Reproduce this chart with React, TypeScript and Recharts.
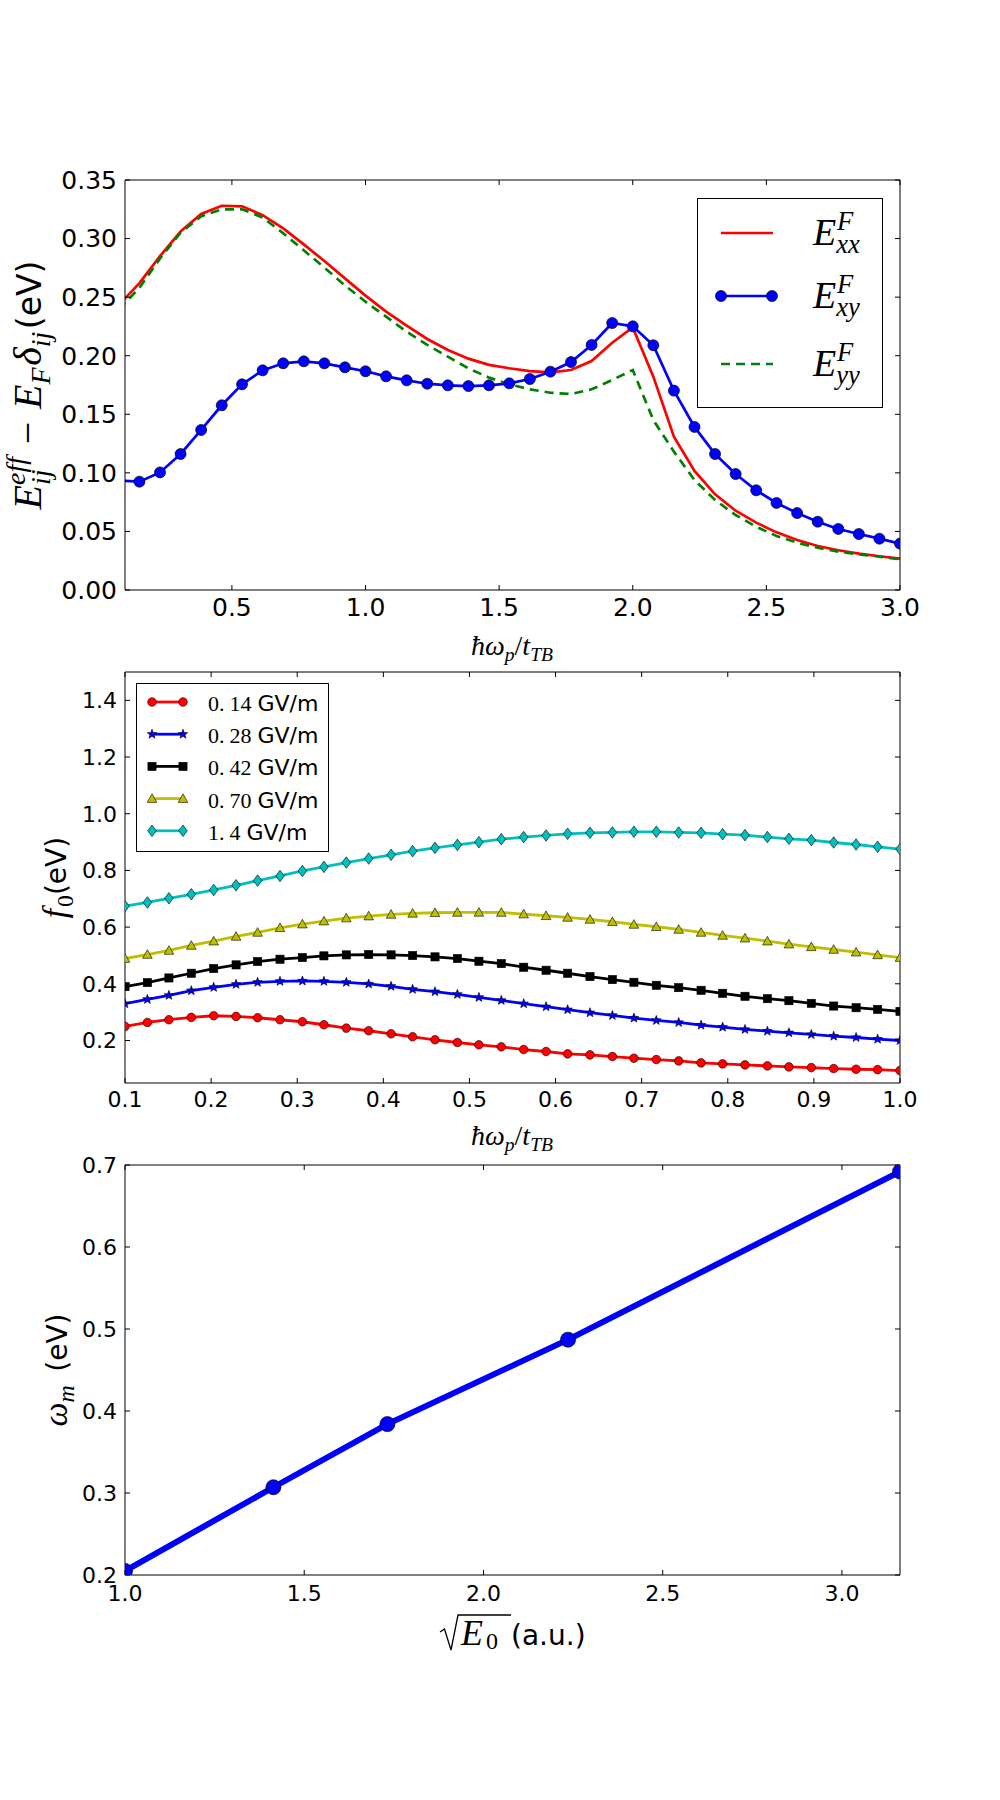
import React from "react";
import { LineChart, Line, XAxis, YAxis, Legend } from "recharts";

const SANS = "DejaVu Sans";
const SERIF = "Liberation Serif";

// ---- panel 1: effective energies vs hbar w_p / t_TB
const X1 = [
  0.077, 0.154, 0.231, 0.308, 0.385, 0.462, 0.538, 0.615, 0.692, 0.769,
  0.846, 0.923, 1.0, 1.077, 1.154, 1.231, 1.308, 1.385, 1.462, 1.538,
  1.615, 1.692, 1.769, 1.846, 1.923, 2.0, 2.077, 2.154, 2.231, 2.308,
  2.385, 2.462, 2.538, 2.615, 2.692, 2.769, 2.846, 2.923, 3.0,
];
const EXX = [
  0.2434, 0.262, 0.285, 0.306, 0.321, 0.328, 0.3275, 0.32, 0.3087, 0.295,
  0.2808, 0.266, 0.2513, 0.2376, 0.2257, 0.2143, 0.2049, 0.1975, 0.1922, 0.1893,
  0.1868, 0.1858, 0.1878, 0.1955, 0.2111, 0.2242, 0.1821, 0.1309, 0.1016, 0.0817,
  0.0677, 0.0575, 0.0492, 0.0427, 0.0376, 0.0339, 0.031, 0.0288, 0.0267,
];
const EXY = [
  0.0935, 0.0925, 0.1004, 0.1161, 0.1366, 0.1577, 0.1756, 0.1875, 0.1935, 0.1952,
  0.1935, 0.1901, 0.1867, 0.1824, 0.179, 0.1761, 0.1747, 0.1741, 0.1747, 0.1764,
  0.1801, 0.1864, 0.1946, 0.2092, 0.2279, 0.2251, 0.2089, 0.1702, 0.1392, 0.1161,
  0.099, 0.0851, 0.0743, 0.0657, 0.0583, 0.0521, 0.0478, 0.0438, 0.0396,
];
const EYY = [
  0.2395, 0.258, 0.283, 0.305, 0.319, 0.325, 0.325, 0.318, 0.3045, 0.29,
  0.2752, 0.26, 0.2461, 0.2333, 0.2205, 0.2092, 0.1992, 0.1892, 0.1813, 0.1756,
  0.1713, 0.1684, 0.1673, 0.1713, 0.1793, 0.1878, 0.1451, 0.1181, 0.0939, 0.0768,
  0.064, 0.054, 0.0461, 0.0404, 0.0361, 0.0327, 0.0305, 0.0285, 0.0262,
];
const X1_TICKS = [0.5, 1.0, 1.5, 2.0, 2.5, 3.0];
const Y1_TICKS = [0, 0.05, 0.1, 0.15, 0.2, 0.25, 0.3, 0.35];

// ---- panel 2: f0 for several field strengths
const X2 = [
  0.1, 0.126, 0.151, 0.177, 0.203, 0.229, 0.254, 0.28, 0.306, 0.331,
  0.357, 0.383, 0.409, 0.434, 0.46, 0.486, 0.511, 0.537, 0.563, 0.589,
  0.614, 0.64, 0.666, 0.691, 0.717, 0.743, 0.769, 0.794, 0.82, 0.846,
  0.871, 0.897, 0.923, 0.949, 0.974, 1.0,
];
const F014 = [
  0.2496, 0.2637, 0.2732, 0.2814, 0.2873, 0.2849, 0.2802, 0.2732, 0.2661, 0.2555,
  0.2437, 0.2343, 0.2236, 0.213, 0.2024, 0.1929, 0.1847, 0.1776, 0.1681, 0.1611,
  0.1528, 0.1493, 0.1434, 0.1375, 0.1327, 0.128, 0.121, 0.1174, 0.1139, 0.1103,
  0.1068, 0.1044, 0.1009, 0.0985, 0.0973, 0.0938,
];
const F028 = [
  0.3298, 0.3451, 0.3593, 0.3758, 0.3876, 0.3982, 0.4053, 0.4088, 0.41, 0.4088,
  0.4053, 0.3994, 0.3912, 0.3805, 0.3723, 0.3628, 0.3522, 0.3416, 0.3298, 0.3192,
  0.3086, 0.298, 0.2885, 0.2791, 0.2708, 0.2637, 0.2543, 0.2472, 0.239, 0.233,
  0.2272, 0.2212, 0.2153, 0.2106, 0.2047, 0.2,
];
const F042 = [
  0.39, 0.4042, 0.4206, 0.4372, 0.4538, 0.4667, 0.4785, 0.4867, 0.4926, 0.4985,
  0.502, 0.5032, 0.502, 0.4997, 0.495, 0.4891, 0.4796, 0.4714, 0.4584, 0.4478,
  0.4372, 0.4254, 0.4148, 0.4053, 0.3947, 0.3865, 0.377, 0.3664, 0.3558, 0.3475,
  0.3404, 0.331, 0.3215, 0.3156, 0.3097, 0.3027,
];
const F070 = [
  0.4891, 0.5033, 0.5175, 0.5352, 0.5504, 0.567, 0.5812, 0.5977, 0.6106, 0.6212,
  0.6319, 0.6389, 0.6448, 0.6484, 0.6507, 0.6519, 0.6519, 0.6515, 0.646, 0.64,
  0.6342, 0.6271, 0.6189, 0.6094, 0.6012, 0.5918, 0.5812, 0.5706, 0.561, 0.5504,
  0.5398, 0.5304, 0.521, 0.5115, 0.502, 0.4926,
];
const F140 = [
  0.674, 0.687, 0.7016, 0.7158, 0.731, 0.7475, 0.764, 0.7805, 0.798, 0.8124,
  0.8277, 0.8419, 0.855, 0.868, 0.8796, 0.89, 0.8997, 0.9103, 0.9175, 0.9233,
  0.9292, 0.9327, 0.9339, 0.9363, 0.9363, 0.9339, 0.9327, 0.928, 0.9245, 0.9175,
  0.9115, 0.907, 0.8985, 0.8914, 0.8832, 0.875,
];
const X2_TICKS = [0.1, 0.2, 0.3, 0.4, 0.5, 0.6, 0.7, 0.8, 0.9, 1.0];
const Y2_TICKS = [0.2, 0.4, 0.6, 0.8, 1.0, 1.2, 1.4];

// ---- panel 3: w_m vs sqrt(E0)
const SQRT_E0 = [1.0, 1.414, 1.732, 2.236, 3.162];
const OMEGA_M = [0.205, 0.307, 0.384, 0.487, 0.692];
const X3_TICKS = [1.0, 1.5, 2.0, 2.5, 3.0];
const Y3_TICKS = [0.2, 0.3, 0.4, 0.5, 0.6, 0.7];

const rows1 = X1.map((x, i) => ({ x, exx: EXX[i], exy: EXY[i], eyy: EYY[i] }));
const FIELDS = [
  { key: "f014", whole: "0.", frac: "14", values: F014, color: "#ff0000", marker: "circle" },
  { key: "f028", whole: "0.", frac: "28", values: F028, color: "#0000ff", marker: "star" },
  { key: "f042", whole: "0.", frac: "42", values: F042, color: "#000000", marker: "square" },
  { key: "f070", whole: "0.", frac: "70", values: F070, color: "#bfbf00", marker: "triangle" },
  { key: "f140", whole: "1.", frac: "4", values: F140, color: "#00bfbf", marker: "diamond" },
];
const rows2 = X2.map((x, i) => {
  const r: Record<string, number> = { x };
  FIELDS.forEach((f) => (r[f.key] = f.values[i]));
  return r;
});
const rows3 = SQRT_E0.map((x, i) => ({ x, w: OMEGA_M[i] }));

// layout of the three panels (chart top, chart height, plot top/bottom relative to chart)
const L1 = { top: 0, height: 670, plotTop: 180, plotBottom: 590 };
const L2 = { top: 670, height: 490, plotTop: 2, plotBottom: 413 };
const L3 = { top: 1140, height: 660, plotTop: 25, plotBottom: 435 };

type Seg = { t: string; it?: boolean; sans?: boolean; lv?: number; dx?: number };

function MathText({ x, y, size, sansSize, segs, anchor = "middle", rotate = false }: {
  x: number; y: number; size: number; sansSize?: number; segs: Seg[]; anchor?: string; rotate?: boolean;
}) {
  let cur = 0;
  const spans = segs.map((s, i) => {
    const lv = s.lv ?? 0;
    const target = lv > 0 ? -0.39 * size : lv < 0 ? 0.22 * size : 0;
    const dy = target - cur;
    cur = target;
    const fs = s.sans ? sansSize ?? size : lv ? size * 0.7 : size;
    return (
      <tspan key={i} dy={dy} dx={(s.dx ?? 0) * size} fontSize={fs}
        fontFamily={s.sans ? SANS : SERIF} fontStyle={s.it ? "italic" : "normal"}>
        {s.t}
      </tspan>
    );
  });
  return (
    <text x={x} y={y} textAnchor={anchor as any} fill="#000" transform={rotate ? `rotate(-90 ${x} ${y})` : undefined}>
      {spans}
    </text>
  );
}

const HW: Seg[] = [
  { t: "ħ", it: true },
  { t: "ω", it: true },
  { t: "p", it: true, lv: -1 },
  { t: "/" },
  { t: "t", it: true },
  { t: "TB", it: true, lv: -1 },
];

const noLabel = () => <g />;

function starPoints(cx: number, cy: number, ro: number, ri: number) {
  const pts: string[] = [];
  for (let i = 0; i < 10; i++) {
    const r = i % 2 ? ri : ro;
    const a = -Math.PI / 2 + (i * Math.PI) / 5;
    pts.push(`${cx + r * Math.cos(a)},${cy + r * Math.sin(a)}`);
  }
  return pts.join(" ");
}

function Marker({ kind, cx, cy, fill }: { kind: string; cx: number; cy: number; fill: string }) {
  const st = { fill, stroke: "#000", strokeWidth: 0.6 };
  if (kind === "circle") return <circle cx={cx} cy={cy} r={4.3} {...st} />;
  if (kind === "star") return <polygon points={starPoints(cx, cy, 5, 2.1)} {...st} />;
  if (kind === "square") return <rect x={cx - 4.1} y={cy - 4.1} width={8.2} height={8.2} {...st} />;
  if (kind === "triangle")
    return <polygon points={`${cx},${cy - 4.8} ${cx - 4.8},${cy + 3.8} ${cx + 4.8},${cy + 3.8}`} {...st} />;
  return <polygon points={`${cx},${cy - 5.8} ${cx + 4.3},${cy} ${cx},${cy + 5.8} ${cx - 4.3},${cy}`} {...st} />;
}

function axes(o: {
  xd: [number, number];
  xt: number[];
  xf: (v: number) => string;
  yd: [number, number];
  yt: number[];
  yf: (v: number) => string;
  fs: number;
  xMargin: number;
  xH: number;
  xLabel: () => React.ReactNode;
  yLabel: () => React.ReactNode;
}) {
  const tick = { fontSize: o.fs, fill: "#000", fontFamily: SANS };
  return [
    <XAxis key="xb" xAxisId="b" type="number" dataKey="x" domain={o.xd} ticks={o.xt} interval={0}
      tickFormatter={o.xf} allowDataOverflow stroke="#000" tick={tick} tickSize={-5}
      tickMargin={o.xMargin} height={o.xH} label={{ content: o.xLabel }} />,
    <XAxis key="xt" xAxisId="t" orientation="top" type="number" dataKey="x" domain={o.xd} ticks={o.xt}
      interval={0} allowDataOverflow stroke="#000" tick={noLabel} tickSize={-5} height={1} />,
    <YAxis key="yl" yAxisId="l" type="number" domain={o.yd} ticks={o.yt} interval={0}
      tickFormatter={o.yf} allowDataOverflow stroke="#000" tick={tick} tickSize={-5}
      tickMargin={13} width={125} label={{ content: o.yLabel }} />,
    <YAxis key="yr" yAxisId="r" orientation="right" type="number" domain={o.yd} ticks={o.yt}
      interval={0} allowDataOverflow stroke="#000" tick={noLabel} tickSize={-5} width={1} />,
  ];
}

const SERIES1 = [
  { key: "exx", sub: "xx", color: "#ff0000", dash: undefined as string | undefined, dots: false },
  { key: "exy", sub: "xy", color: "#0000ff", dash: undefined as string | undefined, dots: true },
  { key: "eyy", sub: "yy", color: "#008000", dash: "9 6", dots: false },
];

function Legend1() {
  const ys = [35, 98, 166];
  return (
    <svg width={186} height={210} style={{ display: "block" }}>
      <rect x={0.5} y={0.5} width={185} height={209} fill="#fff" stroke="#000" />
      {SERIES1.map((s, i) => (
        <g key={s.key}>
          <line x1={24} x2={76} y1={ys[i]} y2={ys[i]} stroke={s.color} strokeWidth={2.7} strokeDasharray={s.dash} />
          {s.dots && <circle cx={24} cy={ys[i]} r={5.5} fill={s.color} stroke="#000" strokeWidth={0.7} />}
          {s.dots && <circle cx={75} cy={ys[i]} r={5.5} fill={s.color} stroke="#000" strokeWidth={0.7} />}
          <MathText x={116} y={ys[i] + 12} size={38} anchor="start"
            segs={[{ t: "E", it: true, dx: 0 }, { t: s.sub, it: true, lv: -1 }, { t: "F", it: true, lv: 1, dx: -0.6 }]} />
        </g>
      ))}
    </svg>
  );
}

function Legend2() {
  return (
    <svg width={193} height={169} style={{ display: "block" }}>
      <rect x={0.5} y={0.5} width={192} height={168} fill="#fff" stroke="#000" />
      {FIELDS.map((f, i) => {
        const y = 19 + i * 32.2;
        return (
          <g key={f.key}>
            <line x1={16} x2={47} y1={y} y2={y} stroke={f.color} strokeWidth={2.8} />
            <Marker kind={f.marker} cx={16} cy={y} fill={f.color} />
            <Marker kind={f.marker} cx={47} cy={y} fill={f.color} />
            <text x={72} y={y + 9} fontSize={22} fill="#000">
              <tspan fontFamily={SERIF}>{f.whole}</tspan>
              <tspan fontFamily={SERIF} dx={5}>{f.frac}</tspan>
              <tspan fontFamily={SANS} dx={6}>GV/m</tspan>
            </text>
          </g>
        );
      })}
    </svg>
  );
}

export default function App() {
  return (
    <div style={{ position: "absolute", left: 0, top: 0, width: 1000, height: 1800, background: "#fff" }}>
      <div style={{ position: "absolute", left: 0, top: L1.top }}>
        <LineChart width={1000} height={L1.height} data={rows1}
          margin={{ top: L1.plotTop - 1, right: 99, bottom: 0, left: 0 }}>
          {axes({
            xd: [0.1, 3.0], xt: X1_TICKS, xf: (v) => v.toFixed(1),
            yd: [0, 0.35], yt: Y1_TICKS, yf: (v) => v.toFixed(2),
            fs: 25, xMargin: 13, xH: L1.height - L1.plotBottom,
            xLabel: () => <MathText x={512} y={655} size={28} segs={HW} />,
            yLabel: () => (
              <MathText x={41} y={(L1.plotTop + L1.plotBottom) / 2} size={40} sansSize={33} rotate segs={[
                { t: "E", it: true },
                { t: "ij", it: true, lv: -1 },
                { t: "eff", it: true, lv: 1, dx: -0.39 },
                { t: "−", dx: 0.32 },
                { t: "E", it: true, dx: 0.32 },
                { t: "F", it: true, lv: -1 },
                { t: "δ", it: true, dx: 0.04 },
                { t: "ij", it: true, lv: -1 },
                { t: "(eV)", sans: true, dx: 0.06 },
              ]} />
            ),
          })}
          {SERIES1.map((s) => (
            <Line key={s.key} xAxisId="b" yAxisId="l" type="linear" dataKey={s.key} stroke={s.color}
              strokeWidth={2.7} strokeDasharray={s.dash} isAnimationActive={false} activeDot={false}
              dot={s.dots ? { r: 5.5, fill: s.color, stroke: "#000", strokeWidth: 0.7 } : false} />
          ))}
          <Legend layout="vertical" align="center" verticalAlign="middle" content={() => <Legend1 />}
            wrapperStyle={{ left: 697, top: 198, width: 186, height: 210, margin: 0, padding: 0 }} />
        </LineChart>
      </div>

      <div style={{ position: "absolute", left: 0, top: L2.top }}>
        <LineChart width={1000} height={L2.height} data={rows2}
          margin={{ top: L2.plotTop - 1, right: 99, bottom: 0, left: 0 }}>
          {axes({
            xd: [0.1, 1.0], xt: X2_TICKS, xf: (v) => v.toFixed(1),
            yd: [0.05, 1.5], yt: Y2_TICKS, yf: (v) => v.toFixed(1),
            fs: 22, xMargin: 13, xH: L2.height - L2.plotBottom,
            xLabel: () => <MathText x={512} y={475} size={28} segs={HW} />,
            yLabel: () => (
              <MathText x={66} y={(L2.plotTop + L2.plotBottom) / 2} size={34} sansSize={28} rotate segs={[
                { t: "f", it: true },
                { t: "0", lv: -1, dx: 0.05 },
                { t: "(eV)", sans: true },
              ]} />
            ),
          })}
          {FIELDS.map((f) => (
            <Line key={f.key} xAxisId="b" yAxisId="l" type="linear" dataKey={f.key} stroke={f.color}
              strokeWidth={2.8} isAnimationActive={false} activeDot={false}
              dot={(p: any) => <Marker key={`${f.key}-${p.index}`} kind={f.marker} cx={p.cx} cy={p.cy} fill={f.color} />} />
          ))}
          <Legend layout="vertical" align="center" verticalAlign="middle" content={() => <Legend2 />}
            wrapperStyle={{ left: 136, top: 13, width: 193, height: 169, margin: 0, padding: 0 }} />
        </LineChart>
      </div>

      <div style={{ position: "absolute", left: 0, top: L3.top }}>
        <LineChart width={1000} height={L3.height} data={rows3}
          margin={{ top: L3.plotTop - 1, right: 99, bottom: 0, left: 0 }}>
          {axes({
            xd: [1.0, 3.162], xt: X3_TICKS, xf: (v) => v.toFixed(1),
            yd: [0.2, 0.7], yt: Y3_TICKS, yf: (v) => v.toFixed(1),
            fs: 22, xMargin: 15, xH: L3.height - L3.plotBottom,
            xLabel: () => (
              <g>
                <path d="M440,492 L444.5,489 L451,510 L458,475 L511,475" fill="none" stroke="#000" strokeWidth={1.3} />
                <text x={461} y={505} fontSize={36} fontFamily={SERIF} fontStyle="italic" fill="#000">E</text>
                <text x={486} y={509} fontSize={24} fontFamily={SERIF} fill="#000">0</text>
                <text x={511} y={505} fontSize={28} fontFamily={SANS} fill="#000">(a.u.)</text>
              </g>
            ),
            yLabel: () => (
              <MathText x={67} y={(L3.plotTop + L3.plotBottom) / 2} size={34} sansSize={28} rotate segs={[
                { t: "ω", it: true },
                { t: "m", it: true, lv: -1 },
                { t: "(eV)", sans: true, dx: 0.4 },
              ]} />
            ),
          })}
          <Line xAxisId="b" yAxisId="l" type="linear" dataKey="w" stroke="#0000ff" strokeWidth={6}
            isAnimationActive={false} activeDot={false}
            dot={{ r: 7.5, fill: "#0000ff", stroke: "#000", strokeWidth: 0.7 }} />
        </LineChart>
      </div>
    </div>
  );
}
